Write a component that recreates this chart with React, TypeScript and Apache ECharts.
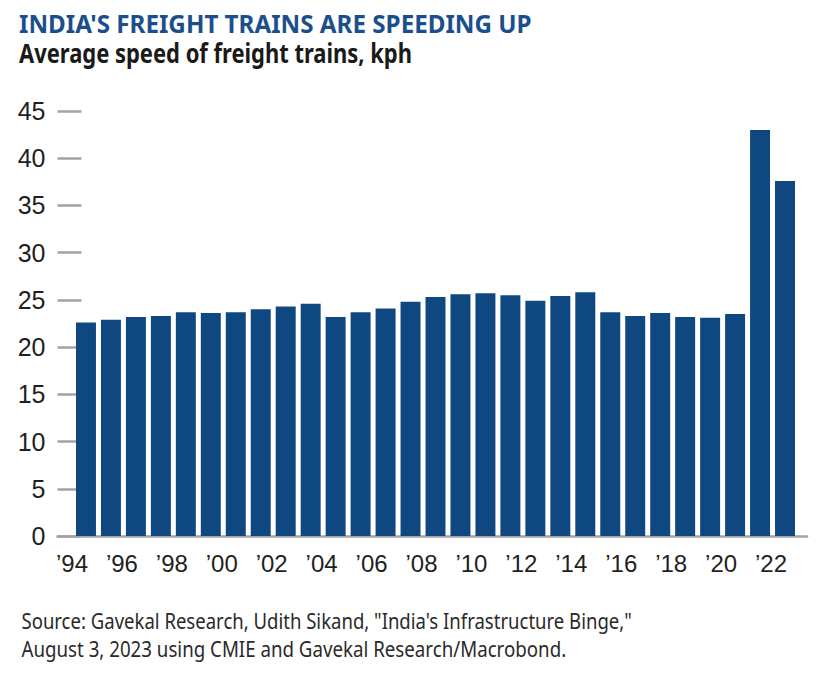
import React, { useEffect, useRef } from "react";
import * as echarts from "echarts";

const years = [
  "1994", "1995", "1996", "1997", "1998", "1999", "2000", "2001", "2002", "2003",
  "2004", "2005", "2006", "2007", "2008", "2009", "2010", "2011", "2012", "2013",
  "2014", "2015", "2016", "2017", "2018", "2019", "2020", "2021", "2022",
];
const speedKph = [
  22.6, 22.9, 23.2, 23.3, 23.7, 23.6, 23.7, 24.0, 24.3, 24.6,
  23.2, 23.7, 24.1, 24.8, 25.3, 25.6, 25.7, 25.5, 24.9, 25.4,
  25.8, 23.7, 23.3, 23.6, 23.2, 23.1, 23.5, 43.0, 37.6,
];
const yTicks = { min: 0, max: 45, interval: 5 };

const titleText = "INDIA'S FREIGHT TRAINS ARE SPEEDING UP";
const subtitleText = "Average speed of freight trains, kph";
const sourceLines = [
  'Source: Gavekal Research, Udith Sikand, "India\'s Infrastructure Binge,"',
  "August 3, 2023 using CMIE and Gavekal Research/Macrobond.",
];

function measure(text: string, font: string): number {
  const c = document.createElement("canvas");
  const ctx = c.getContext("2d");
  if (!ctx) return 1;
  ctx.font = font;
  return ctx.measureText(text).width || 1;
}

function fittedText(text: string, font: string, x: number, y: number, targetWidth: number, fill: string) {
  const w = measure(text, font);
  return {
    type: "text",
    x,
    y,
    scaleX: targetWidth / w,
    style: { text, font, fill, textAlign: "left", textVerticalAlign: "middle" },
  };
}

export default function App() {
  const ref = useRef<HTMLDivElement>(null);
  useEffect(() => {
    if (!ref.current) return;
    const chart = echarts.init(ref.current, null, { renderer: "svg" });
    const gridTop = 111;
    const gridBottom = 141;
    const titleFont = 'bold 25.5px "Noto Sans"';
    const subFont = 'bold 27px "Noto Sans"';
    const srcFont = '21px "Noto Sans"';
    chart.setOption({
      animation: false,
      backgroundColor: "#ffffff",
      graphic: [
        fittedText(titleText, titleFont, 19, 22.5, 513, "#1b4f8c"),
        fittedText(subtitleText, subFont, 19, 53, 393, "#1a1a1a"),
        fittedText(sourceLines[0], srcFont, 21.5, 621, 611, "#2a2a2a"),
        fittedText(sourceLines[1], srcFont, 21.5, 649, 545, "#2a2a2a"),
      ],
      grid: [
        { left: 57.5, right: 13, top: gridTop, bottom: gridBottom },
        { left: 73.5, right: 22.5, top: gridTop, bottom: gridBottom },
      ],
      xAxis: [
        {
          gridIndex: 0,
          type: "value",
          min: 0,
          max: 1,
          axisLine: { show: true, lineStyle: { color: "#a3a3a3", width: 2.5 } },
          axisTick: { show: false },
          axisLabel: { show: false },
          splitLine: { show: false },
        },
        {
          gridIndex: 1,
          type: "category",
          data: years,
          axisLine: { show: false },
          axisTick: { show: false },
          axisLabel: {
            interval: 1,
            margin: 15,
            padding: [0, 28, 0, 0],
            fontFamily: "Liberation Sans",
            fontSize: 24,
            color: "#1f1f1f",
            formatter: (v: string) => "\u2019" + v.slice(2),
          },
        },
      ],
      yAxis: [
        {
          gridIndex: 0,
          type: "value",
          min: yTicks.min,
          max: yTicks.max,
          interval: yTicks.interval,
          axisLine: { show: false },
          axisTick: {
            show: true,
            inside: true,
            length: 24,
            lineStyle: { color: "#a3a3a3", width: 2.5 },
          },
          splitLine: { show: false },
          axisLabel: {
            margin: 12,
            fontFamily: "Liberation Sans",
            fontSize: 25,
            color: "#1f1f1f",
          },
        },
        {
          gridIndex: 1,
          type: "value",
          min: yTicks.min,
          max: yTicks.max,
          interval: yTicks.interval,
          show: false,
        },
      ],
      series: [
        {
          type: "bar",
          xAxisIndex: 1,
          yAxisIndex: 1,
          data: speedKph,
          barCategoryGap: "20%",
          itemStyle: { color: "#0f4880" },
          z: 5,
        },
      ],
    });
    return () => chart.dispose();
  }, []);
  return <div ref={ref} style={{ width: 820, height: 677, position: "absolute", left: 0, top: 0 }} />;
}
